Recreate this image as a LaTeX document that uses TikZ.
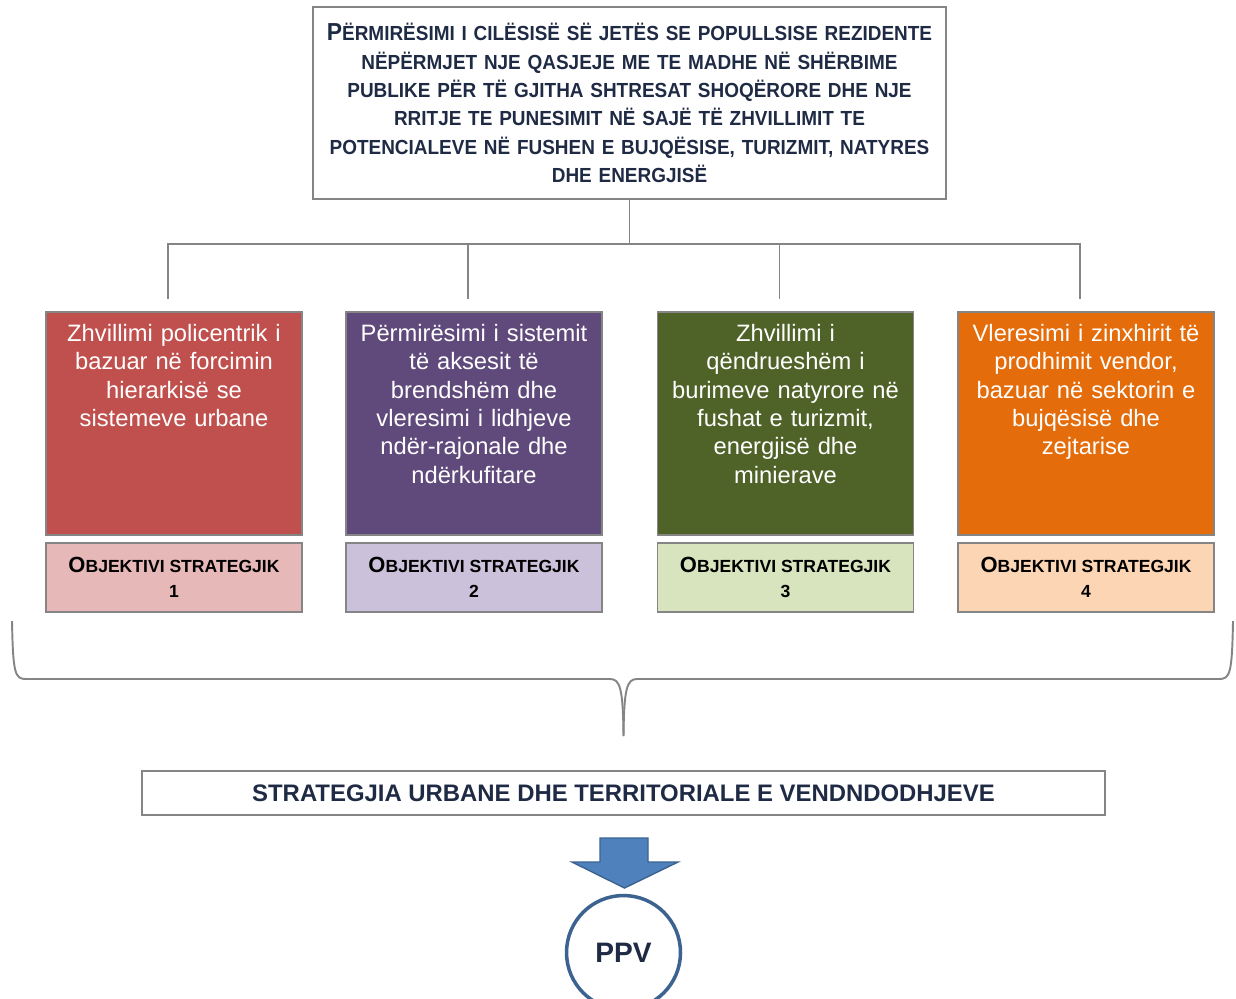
\documentclass[tikz,border=0pt]{standalone}
\usepackage{fontspec}
\setmainfont{Liberation Sans}
\newfontfamily\narrowfont[FakeStretch=0.93]{Liberation Sans}
\usetikzlibrary{positioning}
\definecolor{navy}{HTML}{1F2A44}
\definecolor{linegray}{HTML}{858585}
\definecolor{redA}{HTML}{C0504D}
\definecolor{redB}{HTML}{E6B9B8}
\definecolor{violetA}{HTML}{604A7B}
\definecolor{violetB}{HTML}{CCC1DA}
\definecolor{oliveA}{HTML}{4F6228}
\definecolor{oliveB}{HTML}{D7E4BD}
\definecolor{orangeA}{HTML}{E46C0A}
\definecolor{orangeB}{HTML}{FCD5B5}
\definecolor{arrowblue}{HTML}{4F81BD}
\definecolor{ringblue}{HTML}{3C6390}
\newcommand{\bigfirst}[2]{{\fontsize{12.5}{14.2}\selectfont #1}#2}
\tikzset{%
  goalbox/.style={draw=linegray,line width=1.2pt,inner sep=0,minimum width=12.66cm,minimum height=3.84cm,
    text width=12.5cm,align=center,text=navy,font=\narrowfont\bfseries\fontsize{11.6}{16.1}\selectfont},
  objbox/.style={draw=linegray,line width=1pt,minimum width=5.12cm,minimum height=4.46cm,inner sep=0},
  objtext/.style={text width=5cm,align=center,inner sep=0,text=white,font=\fontsize{13.5}{16.1}\selectfont},
  numbox/.style={draw=linegray,line width=1pt,minimum width=5.12cm,minimum height=1.38cm,inner sep=0,
    align=center,font=\bfseries\fontsize{10}{14.2}\selectfont},
  stratbox/.style={draw=linegray,line width=1.2pt,minimum width=19.26cm,minimum height=0.88cm,inner sep=0,
    text=navy,font=\bfseries\fontsize{13.6}{16}\selectfont},
  ppvnode/.style={draw=ringblue,line width=2pt,circle,fill=white,minimum size=2.28cm,inner sep=0,
    text=navy,font=\bfseries\fontsize{16}{18}\selectfont},
  link/.style={draw=linegray,line width=1.1pt},
  brace/.style={draw=linegray,line width=1.1pt}
}

\begin{document}
\begin{tikzpicture}[x=0.02cm,y=-0.02cm]
    \useasboundingbox (0,0) rectangle (1236,998);
    \node[goalbox] (goal) at (629.5,103) {{\fontsize{14}{16.1}\selectfont P}ËRMIRËSIMI I CILËSISË SË JETËS SE POPULLSISE REZIDENTE\\
      NËPËRMJET NJE QASJEJE ME TE MADHE NË SHËRBIME\\
      PUBLIKE PËR TË GJITHA SHTRESAT SHOQËRORE DHE NJE\\
      RRITJE TE PUNESIMIT NË SAJË TË ZHVILLIMIT TE\\
      POTENCIALEVE NË FUSHEN E BUJQËSISE, TURIZMIT, NATYRES\\
      DHE ENERGJISË};
    % the four objectives
    \path
      (174,423.5) node (obj1)[objbox,fill=redA]{}
      (474,423.5) node (obj2)[objbox,fill=violetA]{}
      (785.5,423.5) node (obj3)[objbox,fill=oliveA]{}
      (1086,423.5) node (obj4)[objbox,fill=orangeA]{};
    \node[objtext,below=0.26cm of obj1.north] (txt1) {Zhvillimi policentrik i\\bazuar në forcimin\\hierarkisë se\\sistemeve urbane};
    \node[objtext,below=0.26cm of obj2.north] (txt2) {Përmirësimi i sistemit\\të aksesit të\\brendshëm dhe\\vleresimi i lidhjeve\\ndër-rajonale dhe\\ndërkufitare};
    \node[objtext,below=0.26cm of obj3.north] (txt3) {Zhvillimi i\\qëndrueshëm i\\burimeve natyrore në\\fushat e turizmit,\\energjisë dhe\\minierave};
    \node[objtext,below=0.26cm of obj4.north] (txt4) {Vleresimi i zinxhirit të\\prodhimit vendor,\\bazuar në sektorin e\\bujqësisë dhe\\zejtarise};
    \node[numbox,fill=redB,below=0.12cm of obj1] (num1) {\bigfirst{O}{BJEKTIVI STRATEGJIK}\\1};
    \node[numbox,fill=violetB,below=0.12cm of obj2] (num2) {\bigfirst{O}{BJEKTIVI STRATEGJIK}\\2};
    \node[numbox,fill=oliveB,below=0.12cm of obj3] (num3) {\bigfirst{O}{BJEKTIVI STRATEGJIK}\\3};
    \node[numbox,fill=orangeB,below=0.12cm of obj4] (num4) {\bigfirst{O}{BJEKTIVI STRATEGJIK}\\4};
    % tree lines
    \draw[link] (goal.south) -- ++(0,44) coordinate (hub);
    \foreach \i in {1,...,4}
      \draw[link,shorten >=0.24cm] (hub) -| ([xshift=-0.12cm]obj\i.north);
    % curly brace
    \draw[brace] (12,621) .. controls (13,674) and (15,679) .. (26,679) -- (610,679)
      .. controls (620,679) and (623,688) .. (623.5,736);
    \draw[brace] (1233,621) .. controls (1232,674) and (1230,679) .. (1219,679) -- (637,679)
      .. controls (627,679) and (624,688) .. (623.5,736);
    \node[stratbox] (strat) at (623.5,793) {STRATEGJIA URBANE DHE TERRITORIALE E VENDNDODHJEVE};
    % block arrow
    \filldraw[fill=arrowblue,draw=ringblue,line width=0.8pt]
      (600,838) -- (648,838) -- (648,862) -- (678,862) -- (624.5,888) -- (572,862) -- (600,862) -- cycle;
    \node[ppvnode] (ppv) at (623.5,952.5) {PPV};
  \end{tikzpicture}
\end{document}
